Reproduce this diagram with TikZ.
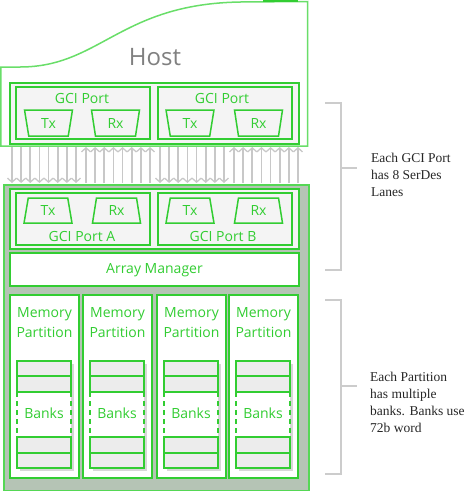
\documentclass[tikz,border=0pt]{standalone}
\usepackage{fontspec}
\setmainfont{Liberation Serif}
\newfontfamily\osf{Open Sans}
\usetikzlibrary{arrows.meta,shapes.geometric,calc}
\definecolor{grn}{RGB}{50,205,50}
\definecolor{hostgrn}{RGB}{105,222,105}
\definecolor{chipgrn}{RGB}{85,215,85}
\definecolor{chipfill}{RGB}{181,196,181}
\definecolor{panel}{RGB}{244,244,244}
\definecolor{bankfill}{RGB}{236,236,236}
\definecolor{arrgray}{RGB}{200,200,200}
\definecolor{brgray}{RGB}{204,204,204}
\definecolor{hostgray}{RGB}{128,128,128}
\definecolor{shadowgray}{RGB}{215,215,215}
\tikzset{
  gbox/.style={draw=grn, line width=1.5pt, inner sep=0pt, outer sep=0pt, anchor=north west},
  lbl/.style={text=grn, font=\osf\fontsize{14}{20}\selectfont, inner sep=0pt, align=center},
  trap/.style={trapezium, draw=grn, line width=1.5pt, fill=panel, trapezium left angle=81, trapezium right angle=81, trapezium stretches=true, minimum width=48pt, minimum height=25pt, inner sep=0pt, text=grn, font=\osf\fontsize{14}{17}\selectfont},
  lane/.style={draw=arrgray, line width=1.8pt, arrows={-Straight Barb[length=4pt,width=9pt,line width=1.3pt]}},
  bracket/.style={draw=brgray, line width=2pt},
  note/.style={anchor=west, align=left, inner sep=0pt, text=black!85, font=\fontsize{13.5}{17}\selectfont}
}
\begin{document}
\begin{tikzpicture}[x=1pt,y=-1pt]
\useasboundingbox (0,0) rectangle (472,491);
% Host
\draw[draw=hostgrn, line width=1.5pt, fill=white] (0.75,67) -- (20,67) .. controls (100,67) and (120,4) .. (240,2) -- (307.5,1.5) -- (307.5,146) -- (0.75,146) -- cycle;
\draw[grn, line width=2pt] (263,0.8) -- (298,0.8);
\node[text=hostgray, font=\osf\fontsize{24}{28}\selectfont, inner sep=0pt] (host) at (155,57) {Host};
\node[gbox, fill=panel, minimum width=289pt, minimum height=61pt] (hpanel) at (10,83) {};
\node[gbox, fill=panel, minimum width=134pt, minimum height=52pt] (hp1) at (16,87) {};
\node[gbox, fill=panel, minimum width=134pt, minimum height=52pt] (hp2) at (158,87) {};
\node[lbl] (hp1l) at (82,98) {GCI Port};
\node[lbl] (hp2l) at (222,98) {GCI Port};
\node[trap, shape border rotate=180, minimum height=26pt] (htx1) at (48.5,123) {Tx};
\node[trap, shape border rotate=180, minimum height=26pt] (hrx1) at (115.5,123) {Rx};
\node[trap, shape border rotate=180, minimum height=26pt] (htx2) at (190,123) {Tx};
\node[trap, shape border rotate=180, minimum height=26pt] (hrx2) at (258.5,123) {Rx};
% lanes
\coordinate (hb) at (0,147);
\coordinate (cb) at (0,183);
\foreach \g in {0,2}{
  \foreach \i in {0,...,7}{
    \pgfmathsetmacro{\xx}{12+74*\g+9.14*\i}
    \draw[lane] ($(hb)+(\xx,0)$) -- ($(cb)+(\xx,0)$);
  }
}
\foreach \g in {1,3}{
  \foreach \i in {0,...,7}{
    \pgfmathsetmacro{\xx}{12+74*\g+9.14*\i}
    \draw[lane] ($(cb)+(\xx,0)$) -- ($(hb)+(\xx,0)$);
  }
}
% Chip
\node[draw=chipgrn, line width=2pt, fill=chipfill, minimum width=305pt, minimum height=306pt, anchor=north west, inner sep=0pt] (chip) at (3,184) {};
\node[gbox, fill=panel, minimum width=289pt, minimum height=60pt] (cpanel) at (10,189) {};
\node[gbox, fill=panel, minimum width=134pt, minimum height=52pt] (cp1) at (16,193) {};
\node[gbox, fill=panel, minimum width=134pt, minimum height=52pt] (cp2) at (158,193) {};
\node[trap] (ctx1) at (48,210.5) {Tx};
\node[trap] (crx1) at (116.5,210.5) {Rx};
\node[trap] (ctx2) at (190,210.5) {Tx};
\node[trap] (crx2) at (258.5,210.5) {Rx};
\node[lbl] (cp1l) at (82,236) {GCI Port A};
\node[lbl] (cp2l) at (223,236) {GCI Port B};
\node[gbox, fill=white, minimum width=289pt, minimum height=33pt] (am) at (10,253) {};
\node[lbl] (aml) at (154.5,270) {Array Manager};
% partitions
\foreach \n/\px in {1/10,2/83,3/157,4/229}{
  \node[gbox, fill=white, minimum width=69pt, minimum height=183pt] (part\n) at (\px,295) {};
  \node[lbl] (pl\n) at ($(\px,323)+(34.5,0)$) {Memory\\Partition};
  \pgfmathsetmacro{\bx}{\px+7}
  \fill[shadowgray] (\bx+3,364) rectangle (\bx+57,471);
  \fill[white] (\bx,361) rectangle (\bx+54,468);
  \foreach \ya/\yb in {361/376,376/392,437/453,453/468}{
    \draw[draw=grn, line width=1.5pt, fill=bankfill] (\bx,\ya) rectangle (\bx+54,\yb);
  }
  \draw[draw=grn, line width=1.5pt, dash pattern=on 5pt off 4pt] (\bx,392) -- (\bx,437);
  \draw[draw=grn, line width=1.5pt, dash pattern=on 5pt off 4pt] (\bx+54,392) -- (\bx+54,437);
  \node[lbl] (bk\n) at (\bx+27,413) {Banks};
}
% brackets and notes
\draw[bracket] (325,103) -- (341,103) -- (341,270) -- (325,270);
\draw[bracket] (341,168) -- (357,168);
\draw[bracket] (325,300) -- (341,300) -- (341,474) -- (325,474);
\draw[bracket] (341,386) -- (357,386);
\node[note] (n1) at (371,175) {Each GCI Port\\has 8 SerDes\\Lanes};
\node[note] (n2) at (370,402) {Each Partition\\has multiple\\banks. Banks use\\72b word};
\end{tikzpicture}
\end{document}
